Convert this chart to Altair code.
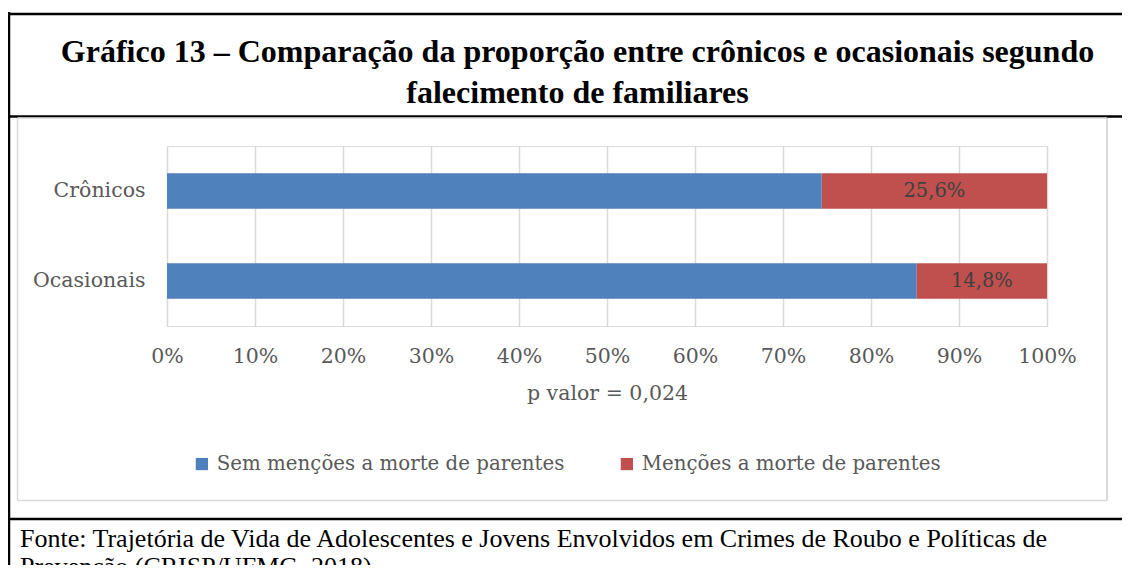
import altair as alt
import pandas as pd

groups = ["Crônicos", "Ocasionais"]
series = ["Sem menções a morte de parentes", "Menções a morte de parentes"]
sem_mencoes = [74.4, 85.2]
com_mencoes = [25.6, 14.8]
label_texts = ["25,6%", "14,8%"]
colors = ["#4f81bd", "#c0504d"]

title_lines = ["Gráfico 13 – Comparação da proporção entre crônicos e ocasionais segundo",
               "falecimento de familiares"]
footer_lines = ["Fonte: Trajetória de Vida de Adolescentes e Jovens Envolvidos em Crimes de Roubo e Políticas de",
                "Prevenção (CRISP/UFMG, 2018)"]
x_title = "p valor = 0,024"

rows = []
for i, g in enumerate(groups):
    rows.append({"grupo": g, "serie": series[0], "valor": sem_mencoes[i], "ord": 0})
    rows.append({"grupo": g, "serie": series[1], "valor": com_mencoes[i], "ord": 1})
df = pd.DataFrame(rows)

lab = pd.DataFrame({
    "grupo": groups,
    "mid": [s + c / 2 for s, c in zip(sem_mencoes, com_mencoes)],
    "txt": label_texts,
})

AX_FONT = "DejaVu Serif"
FS = 20.5

yscale = alt.Scale(domain=groups, paddingInner=0.605, paddingOuter=0.3025)

bars = alt.Chart(df).mark_bar().encode(
    y=alt.Y("grupo:N", sort=groups, scale=yscale,
            axis=alt.Axis(title=None, domain=False, ticks=False, labelPadding=22,
                          labelFont=AX_FONT, labelFontSize=FS, labelColor="#595959")),
    x=alt.X("valor:Q", stack="zero", scale=alt.Scale(domain=[0, 100], nice=False),
            axis=alt.Axis(values=list(range(0, 101, 10)), labelExpr="datum.value + '%'",
                          title=x_title, titleFont=AX_FONT, titleFontSize=FS,
                          titleFontWeight="normal", titleColor="#595959", titlePadding=17,
                          labelFont=AX_FONT, labelFontSize=FS, labelColor="#595959",
                          labelPadding=20, labelFlush=False, labelOverlap=False,
                          domain=False, ticks=False,
                          grid=True, gridColor="#d9d9d9", gridWidth=1.5)),
    color=alt.Color("serie:N", scale=alt.Scale(domain=series, range=colors),
                    legend=alt.Legend(title=None, orient="none", legendX=25, legendY=308,
                                      direction="horizontal", symbolType="square",
                                      symbolSize=150, symbolStrokeWidth=0,
                                      labelFont=AX_FONT, labelFontSize=19.8, labelLimit=0,
                                      labelColor="#595959", labelOffset=5,
                                      columnPadding=52)),
    order=alt.Order("ord:Q"),
)

labels = alt.Chart(lab).mark_text(font=AX_FONT, fontSize=19.5, color="#404040").encode(
    y=alt.Y("grupo:N", sort=groups, scale=yscale),
    x=alt.X("mid:Q"),
    text="txt:N",
)

one = alt.Data(values=[{}])

def hline(x1, x2, y, color="black", w=2.5):
    return alt.Chart(one).mark_rule(color=color, strokeWidth=w).encode(
        x=alt.value(x1), x2=alt.value(x2), y=alt.value(y))

def vline(x, y1, y2, color="black", w=2.5):
    return alt.Chart(one).mark_rule(color=color, strokeWidth=w).encode(
        x=alt.value(x), y=alt.value(y1), y2=alt.value(y2))

def text(t, x, y, font, size, weight="normal", align="center", color="black"):
    return alt.Chart(one).mark_text(font=font, fontSize=size, fontWeight=weight,
                                    align=align, baseline="middle", color=color).encode(
        x=alt.value(x), y=alt.value(y), text=alt.value(t))

deco = [
    hline(-170, 1000, -132),
    vline(-158, -134, 450),
    hline(-170, 1000, -29.5),
    hline(-170, 1000, 373),
    # gray chart frame
    hline(-149.5, 940, -28, "#d9d9d9", 1.5),
    hline(-149.5, 940, 354.5, "#d9d9d9", 1.5),
    vline(-149.5, -28, 354.5, "#d9d9d9", 1.5),
    vline(940, -28, 354.5, "#d9d9d9", 2),
    text(title_lines[0], 410.5, -94, "Liberation Serif", 32, "bold"),
    text(title_lines[1], 410.5, -53, "Liberation Serif", 32, "bold"),
    text(footer_lines[0], -147, 393, "Liberation Serif", 26, align="left"),
    text(footer_lines[1], -147, 421, "Liberation Serif", 26, align="left"),
]

chart = alt.layer(bars, labels, *deco).properties(
    width=880, height=180,
    autosize=alt.AutoSizeParams(type="none"),
    padding={"left": 159, "top": 138, "right": 75, "bottom": 239},
).configure_view(stroke=None).configure(background="white")

chart.save("out.html", embed_options={"renderer": "svg", "actions": False})
